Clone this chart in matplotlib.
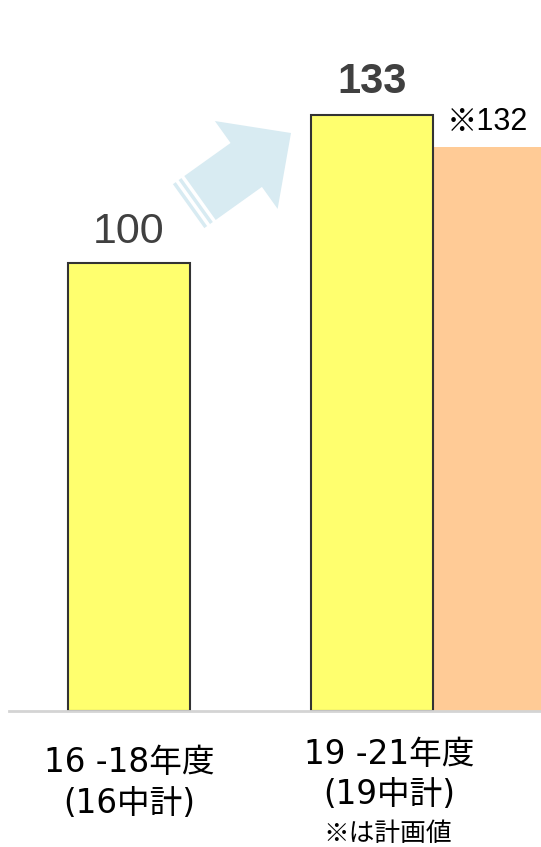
import matplotlib
matplotlib.use("Agg")
import matplotlib.pyplot as plt
from matplotlib.patches import Polygon
import numpy as np

# ---- data ----
categories = ["16 -18年度", "19 -21年度"]
sub_labels = ["(16中計)", "(19中計)"]
actual_values = [100, 133]
plan_label_value = 132
plan_bar_height = 126  # height as drawn in the reference
note_text = "※は計画値"

W, H = 541, 847
fig = plt.figure(figsize=(W / 100, H / 100), dpi=100)
fig.patch.set_facecolor("white")

jp = ["Noto Sans CJK JP", "DejaVu Sans"]
lab_font = ["DejaVu Sans", "Noto Sans CJK JP"]
num_font = ["Liberation Sans", "Noto Sans CJK JP", "DejaVu Sans"]

# axes in pixel layout: x from 9 to 541, baseline at y=711
px_per_val = 4.48
ax_left, ax_right = 9, 541
base_y = 711
ymax = 150
top_y = base_y - ymax * px_per_val
ax_h = base_y - top_y
ax = fig.add_axes([ax_left / W, (H - base_y) / H, (ax_right - ax_left) / W,
                   ax_h / H])

unit = 243.0  # pixels per category step
x0 = 129.0
ax.set_xlim((ax_left - x0) / unit, (ax_right - x0) / unit)
ax.set_ylim(0, ymax)

xpos = np.arange(len(categories))
bw = 122 / unit
ax.bar(xpos, actual_values, width=bw, color="#FFFF6E", edgecolor="#333333",
       linewidth=1.5, zorder=3)
plan_x = xpos[1] + bw / 2
ax.bar(plan_x, plan_bar_height, width=0.6, align="edge", color="#FFCB96",
       edgecolor="none", zorder=2)

for s in ["top", "right", "left"]:
    ax.spines[s].set_visible(False)
ax.spines["bottom"].set_color("#D4D4D4")
ax.spines["bottom"].set_linewidth(2)
ax.spines["bottom"].set_zorder(4)
ax.set_yticks([])
ax.set_xticks([])

# category labels placed by baseline pixel rows
def ypix(Y):
    return (base_y - Y) / ax_h

xt = ax.get_xaxis_transform()
label_x = [0, (389 - x0) / unit]
line1_base = [772, 764]
line2_base = [813, 804]
for i in range(len(categories)):
    ax.text(label_x[i], ypix(line1_base[i]), categories[i], transform=xt,
            ha="center", va="baseline", family=lab_font, fontsize=23.5,
            color="black")
    ax.text(label_x[i], ypix(line2_base[i]), sub_labels[i], transform=xt,
            ha="center", va="baseline", family=lab_font, fontsize=23.5,
            color="black")
ax.text((388 - x0) / unit, ypix(841), note_text, transform=xt,
        ha="center", va="baseline", family=jp, fontsize=18.5, color="black")

# value labels
ax.text(xpos[0], actual_values[0] + 4.5, str(actual_values[0]), ha="center",
        va="baseline", family=num_font, fontsize=31, color="#404040")
ax.text(xpos[1], actual_values[1] + 4.9, str(actual_values[1]), ha="center",
        va="baseline", family=num_font, fontsize=30, fontweight="bold",
        color="#404040")
ax.text(plan_x + 0.225, plan_bar_height + 3.7, "※" + str(plan_label_value),
        ha="center", va="baseline", family=num_font, fontsize=22,
        color="black")

# decorative arrow in figure pixel coordinates (image y downward)
tail = np.array([200.0, 198.0])
tip = np.array([291.0, 133.0])
u = (tip - tail) / np.linalg.norm(tip - tail)
n = np.array([-u[1], u[0]])
L = np.linalg.norm(tip - tail)
hl, sw, hw = 55, 27, 54

def P(t, s):
    p = tail + u * t + n * s
    return (p[0], H - p[1])

arrow = [P(0, -sw), P(L - hl, -sw), P(L - hl, -hw), P(L, 0), P(L - hl, hw),
         P(L - hl, sw), P(0, sw)]
acol = "#D8EBF2"
fig.patches.append(Polygon(arrow, closed=True, transform=None, facecolor=acol,
                           edgecolor="none", zorder=1))
for a, b in [(-7, -3.5), (-14, -10.5)]:
    fig.patches.append(Polygon([P(a, -sw), P(b, -sw), P(b, sw), P(a, sw)],
                               closed=True, transform=None, facecolor=acol,
                               edgecolor="none", zorder=1))

fig.savefig("out.png", dpi=100)
